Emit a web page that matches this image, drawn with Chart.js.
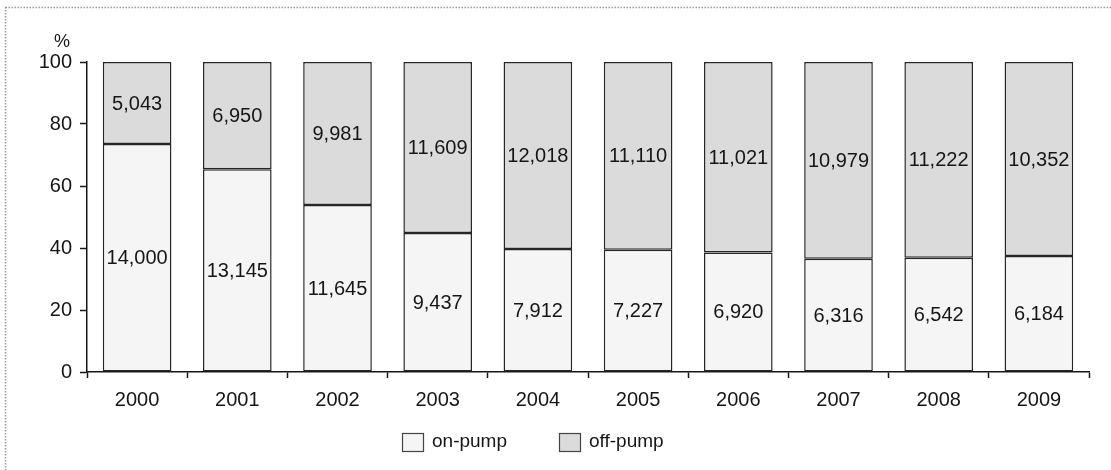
<!DOCTYPE html>
<html>
<head>
<meta charset="utf-8">
<script src="https://cdn.jsdelivr.net/npm/chart.js@4.4.1/dist/chart.umd.min.js"></script>
<style>
  html, body { margin: 0; padding: 0; background: #fff; }
  #wrap { width: 1111px; height: 470px; }
</style>
</head>
<body>
<div id="wrap"><canvas id="c" width="1111" height="470"></canvas></div>
<script>
// Annual case counts by technique
const years = ['2000','2001','2002','2003','2004','2005','2006','2007','2008','2009'];
const onPump  = [14000, 13145, 11645, 9437, 7912, 7227, 6920, 6316, 6542, 6184];
const offPump = [5043, 6950, 9981, 11609, 12018, 11110, 11021, 10979, 11222, 10352];
const yTicks = [0, 20, 40, 60, 80, 100];

// Share of each year's total, in percent
const totals = onPump.map((v, i) => v + offPump[i]);
const onPct  = onPump.map((v, i) => v / totals[i] * 100);
const offPct = offPump.map((v, i) => v / totals[i] * 100);

const FONT = '"Liberation Sans", Arial, sans-serif';
const INK = '#161616';

const frame = {
  id: 'frame',
  beforeDraw(chart) {
    const ctx = chart.ctx;
    ctx.save();
    ctx.fillStyle = '#fff';
    ctx.fillRect(0, 0, chart.width, chart.height);
    ctx.strokeStyle = '#9a9a9a';
    ctx.lineWidth = 1.5;
    ctx.setLineDash([1.5, 1.5]);
    ctx.strokeRect(5.5, 7.5, chart.width + 10, chart.height + 10);
    ctx.restore();
  }
};

const extras = {
  id: 'extras',
  afterDatasetsDraw(chart) {
    const ctx = chart.ctx;
    ctx.save();
    ctx.fillStyle = INK;
    ctx.font = '20px ' + FONT;
    ctx.textAlign = 'center';
    ctx.textBaseline = 'middle';
    const counts = [onPump, offPump];
    chart.data.datasets.forEach((ds, di) => {
      chart.getDatasetMeta(di).data.forEach((bar, i) => {
        const p = bar.getProps(['x', 'y', 'base'], true);
        const cy = (p.y + p.base) / 2;
        ctx.fillText(counts[di][i].toLocaleString('en-US'), p.x, cy + 1);
      });
    });

    // unit label above the value axis
    ctx.font = '18px ' + FONT;
    ctx.fillText('%', 62, 42);

    // legend
    const ly = 442;
    const items = [
      { x: 402, label: chart.data.datasets[0].label, fill: chart.data.datasets[0].backgroundColor },
      { x: 559, label: chart.data.datasets[1].label, fill: chart.data.datasets[1].backgroundColor }
    ];
    ctx.font = '19px ' + FONT;
    ctx.textAlign = 'left';
    items.forEach(it => {
      ctx.fillStyle = it.fill;
      ctx.fillRect(it.x, ly - 9, 21, 18);
      ctx.strokeStyle = '#444';
      ctx.lineWidth = 1.2;
      ctx.strokeRect(it.x + 0.5, ly - 9 + 0.5, 21, 18);
      ctx.fillStyle = INK;
      ctx.fillText(it.label, it.x + 30, ly);
    });
    ctx.restore();
  }
};

new Chart(document.getElementById('c'), {
  type: 'bar',
  data: {
    labels: years,
    datasets: [
      {
        label: 'on-pump',
        data: onPct,
        backgroundColor: '#f5f5f5',
        borderColor: '#262626',
        borderWidth: 1.5,
        borderSkipped: false,
        categoryPercentage: 1,
        barPercentage: 0.685
      },
      {
        label: 'off-pump',
        data: offPct,
        backgroundColor: '#dbdbdb',
        borderColor: '#262626',
        borderWidth: 1.5,
        borderSkipped: false,
        categoryPercentage: 1,
        barPercentage: 0.685
      }
    ]
  },
  options: {
    responsive: false,
    animation: false,
    devicePixelRatio: 1,
    layout: { padding: { left: 0, top: 62, right: 22, bottom: 0 } },
    plugins: {
      legend: { display: false },
      tooltip: { enabled: false }
    },
    scales: {
      x: {
        stacked: true,
        offset: true,
        grid: {
          offset: true,
          drawOnChartArea: false,
          drawTicks: true,
          tickLength: 6,
          tickWidth: 1.5,
          tickColor: INK
        },
        border: { color: INK, width: 1.5 },
        ticks: {
          color: INK,
          font: { family: FONT, size: 20 },
          padding: 10
        },
        afterFit(scale) { scale.height = 98; }
      },
      y: {
        stacked: true,
        min: 0,
        max: 100,
        afterBuildTicks(scale) { scale.ticks = yTicks.map(v => ({ value: v })); },
        grid: {
          drawOnChartArea: false,
          drawTicks: true,
          tickLength: 7,
          tickWidth: 1.5,
          tickColor: INK
        },
        border: { color: INK, width: 1.5 },
        ticks: {
          color: INK,
          font: { family: FONT, size: 20 },
          padding: 8
        },
        afterFit(scale) { scale.width = 87; }
      }
    }
  },
  plugins: [frame, extras]
});
</script>
</body>
</html>
